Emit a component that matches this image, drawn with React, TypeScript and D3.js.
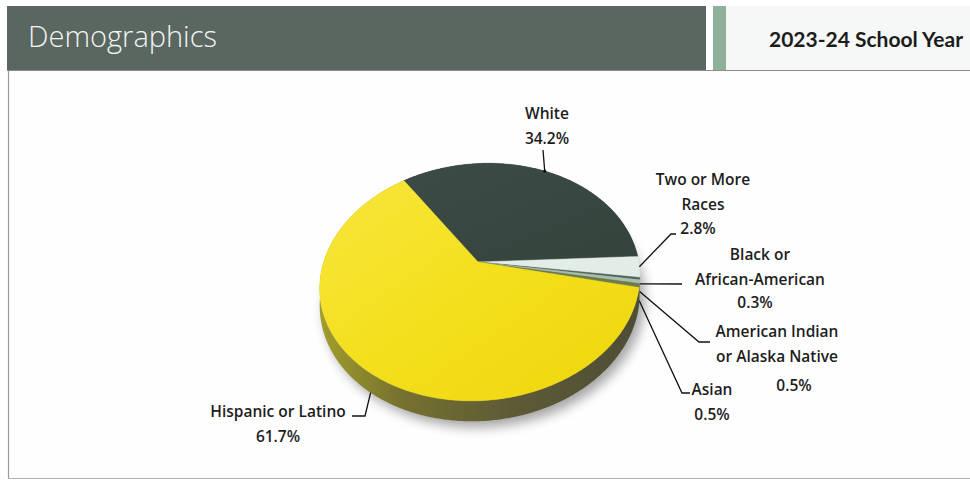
import React from 'react';
import * as d3 from 'd3';

const categories = [
  'White',
  'Two or More Races',
  'Black or African-American',
  'American Indian or Alaska Native',
  'Asian',
  'Hispanic or Latino',
];
const values = [34.2, 2.8, 0.3, 0.5, 0.5, 61.7];
const labelLines = [
  ['White'],
  ['Two or More', 'Races'],
  ['Black or', 'African-American'],
  ['American Indian', 'or Alaska Native'],
  ['Asian'],
  ['Hispanic or Latino'],
];
const sliceColors = ['url(#topDark)', '#e3ede7', '#4f5f55', '#a8bfae', '#6d7a4a', 'url(#topYellow)'];
const wallColors = ['#28332f', '#b9c7bd', '#3a463f', '#7f9584', '#4e5936', 'url(#wallYellow)'];
const title = 'Demographics';
const subtitle = '2023-24 School Year';

const W = 970;
const H = 483;

// pie geometry
const apex = { x: 478, y: 262 };
const RX = 158;
const RY = 115;
const K = 0.17;
const ROT = (-5 * Math.PI) / 180;
const DEPTH = 17;
const START = (-29 * Math.PI) / 180;

function proj(theta: number, drop = 0): [number, number] {
  const u = Math.sin(theta);
  const v = -Math.cos(theta);
  const w = 1 / (1 - K * v);
  const px = RX * u * w;
  const py = RY * v * w;
  const sx = px * Math.cos(ROT) - py * Math.sin(ROT);
  const sy = px * Math.sin(ROT) + py * Math.cos(ROT);
  return [apex.x + sx, apex.y + sy + drop * w];
}

function arcPts(a0: number, a1: number, drop = 0): [number, number][] {
  const n = Math.max(2, Math.ceil(Math.abs(a1 - a0) / 0.01));
  const pts: [number, number][] = [];
  for (let i = 0; i <= n; i++) pts.push(proj(a0 + ((a1 - a0) * i) / n, drop));
  return pts;
}

const line = d3.line();

// label layout: centre x, first baseline, percentage position, leader elbow points, wall fraction for anchor
const layout = [
  { cx: 547, y0: 119, px: 547, py: 144, elbow: [[543, 150]], wall: 0, vertical: true },
  { cx: 703, y0: 185, px: 698, py: 234, elbow: [[671, 234], [676, 234]], wall: 0 },
  { cx: 760, y0: 260, px: 755, py: 308, elbow: [[682, 284]], wall: 0.3 },
  { cx: 777, y0: 337, px: 794, py: 391, elbow: [[699, 342], [710, 342]], wall: 0.55 },
  { cx: 712, y0: 395, px: 712, py: 420, elbow: [[682, 393], [690, 393]], wall: 0.85 },
  { cx: 278, y0: 417, px: 278, py: 442, elbow: [[365, 416], [352, 416]], wall: 1.0 },
];

export default function App() {
  const pie = d3
    .pie<number>()
    .sort(null)
    .value((d) => d)
    .startAngle(START)
    .endAngle(START + 2 * Math.PI);
  const arcs = pie(values);

  const shadowPts = arcPts(0, 2 * Math.PI, DEPTH + 5).map(([x, y]) => [x + 5, y] as [number, number]);

  return (
    <svg
      width={W}
      height={H}
      viewBox={`0 0 ${W} ${H}`}
      style={{ position: 'absolute', left: 0, top: 0, background: '#ffffff' }}
    >
      <defs>
        <filter id="blur" x="-20%" y="-20%" width="140%" height="140%">
          <feGaussianBlur stdDeviation="6" />
        </filter>
        <linearGradient id="topYellow" x1="0" y1="0" x2="1" y2="1">
          <stop offset="0" stopColor="#f7e63c" />
          <stop offset="0.5" stopColor="#f4df1c" />
          <stop offset="1" stopColor="#eed60c" />
        </linearGradient>
        <linearGradient id="topDark" x1="0" y1="0" x2="1" y2="1">
          <stop offset="0" stopColor="#3c4b45" />
          <stop offset="1" stopColor="#35433d" />
        </linearGradient>
        <linearGradient id="wallYellow" x1="0" y1="0" x2="1" y2="0">
          <stop offset="0" stopColor="#a29d2c" />
          <stop offset="0.25" stopColor="#76722f" />
          <stop offset="0.6" stopColor="#5d5b36" />
          <stop offset="1" stopColor="#4e4d35" />
        </linearGradient>
      </defs>

      {/* chart area */}
      <rect x={8} y={70} width={W - 8} height={408} fill="#fdfefd" />
      <line x1={8.5} y1={70} x2={8.5} y2={478} stroke="#9a9a9a" strokeWidth={1.2} />
      <line x1={8} y1={478.5} x2={W} y2={478.5} stroke="#b0b0b0" strokeWidth={1} />

      {/* header */}
      <rect x={7} y={6} width={699} height={64} fill="#5a6660" />
      <rect x={713} y={6} width={13} height={64} fill="#8fb09b" />
      <rect x={726} y={6} width={W - 726} height={64} fill="#f5f8f6" />
      <line x1={7} y1={70.5} x2={W} y2={70.5} stroke="#8c8c8c" strokeWidth={1.2} />
      <text
        x={28}
        y={47}
        fontFamily="'Open Sans', sans-serif"
        fontWeight={300}
        fontSize={29}
        fill="#f1f4f2"
      >
        {title}
      </text>
      <text
        x={963}
        y={47}
        textAnchor="end"
        fontFamily="Lato, sans-serif"
        fontWeight={700}
        fontSize={21}
        fill="#1c1c1c"
      >
        {subtitle}
      </text>

      {/* shadow */}
      <path d={line(shadowPts) + 'Z'} fill="#000" opacity={0.35} filter="url(#blur)" />

      {/* walls */}
      {arcs.map((a, i) => {
        const top = arcPts(a.startAngle, a.endAngle, 0);
        const bot = arcPts(a.endAngle, a.startAngle, DEPTH);
        return <path key={'w' + i} d={line([...top, ...bot]) + 'Z'} fill={wallColors[i]} />;
      })}

      {/* top faces */}
      {arcs.map((a, i) => {
        const pts = [[apex.x, apex.y] as [number, number], ...arcPts(a.startAngle, a.endAngle, 0)];
        return (
          <path
            key={'t' + i}
            d={line(pts) + 'Z'}
            fill={sliceColors[i]}
            stroke={sliceColors[i]}
            strokeWidth={0.4}
          />
        );
      })}

      {/* leaders and labels */}
      {arcs.map((a, i) => {
        const L = layout[i];
        const mid = (a.startAngle + a.endAngle) / 2;
        const anchor = proj(mid, DEPTH * L.wall);
        const pts = [anchor, ...(L.elbow as [number, number][])];
        const lines = labelLines[i];
        return (
          <g key={'l' + i}>
            <path d={line(pts) ?? ''} fill="none" stroke="#111" strokeWidth={1.3} />
            {i === 0 && <circle cx={anchor[0]} cy={anchor[1]} r={1.6} fill="#111" />}
            <g fontFamily="'Open Sans', sans-serif" fontWeight={600} fontSize={15.5} fill="#1d1d1d" textAnchor="middle">
              {lines.map((t, j) => (
                <text key={j} x={L.cx} y={L.y0 + j * 24.5}>
                  {t}
                </text>
              ))}
              <text x={L.px} y={L.py}>
                {d3.format('.1f')(values[i]) + '%'}
              </text>
            </g>
          </g>
        );
      })}
    </svg>
  );
}
